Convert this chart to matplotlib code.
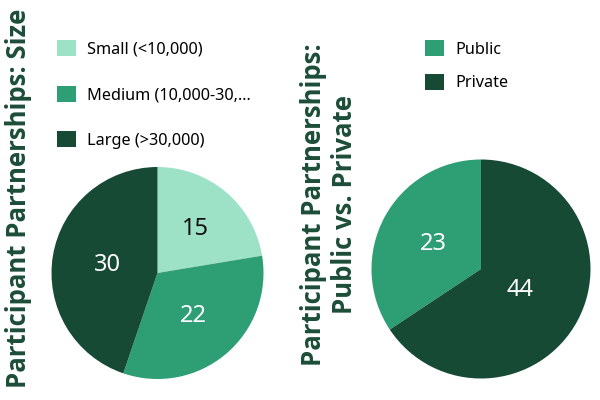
import matplotlib
matplotlib.use('Agg')
import matplotlib.pyplot as plt

plt.rcParams['font.family'] = ['Noto Sans', 'DejaVu Sans']

# data
size_labels = ['Small (<10,000)', 'Medium (10,000-30,...', 'Large (>30,000)']
size_counts = [15, 22, 30]
sector_labels = ['Public', 'Private']
sector_counts = [23, 44]

light = '#9de1c6'
medium = '#2e9e75'
dark = '#164a35'
title_color = '#1b4d38'

fig = plt.figure(figsize=(6, 4), dpi=100)
W, H = 600, 400


def px_axes(cx, cy, r):
    # square axes centred on pixel (cx, cy) measured from top-left
    return fig.add_axes([(cx - r) / W, (H - cy - r) / H, 2 * r / W, 2 * r / H])


def draw_pie(ax, counts, colors, counterclock, dists, text_colors):
    total = sum(counts)
    wedges, _, autotexts = ax.pie(
        counts, colors=colors, startangle=90, counterclock=counterclock,
        autopct=lambda p: f'{round(p * total / 100)}',
        textprops={'fontsize': 17})
    for t, d, c in zip(autotexts, dists, text_colors):
        x, y = t.get_position()
        r = (x ** 2 + y ** 2) ** 0.5
        t.set_position((x / r * d, y / r * d))
        t.set_color(c)
    ax.set_xlim(-1, 1)
    ax.set_ylim(-1, 1)
    ax.set_aspect('equal')
    return wedges


# left pie: size
ax1 = px_axes(157.5, 273, 106)
w1 = draw_pie(ax1, size_counts, [light, medium, dark], False,
              [0.55, 0.53, 0.48], ['#111111', 'white', 'white'])
fig.legend(w1, size_labels, loc='upper left', bbox_to_anchor=(57 / W, 1 - 40 / H),
           frameon=False, fontsize=11.7, handlelength=1.15, handleheight=1.15,
           handletextpad=0.7, labelspacing=1.72, borderpad=0, borderaxespad=0)

# right pie: public vs private
ax2 = px_axes(481, 269, 109.5)
w2 = draw_pie(ax2, sector_counts, [medium, dark], True,
              [0.49, 0.40], ['white', 'white'])
fig.legend(w2, sector_labels, loc='upper left', bbox_to_anchor=(425 / W, 1 - 40 / H),
           frameon=False, fontsize=11.7, handlelength=1.15, handleheight=1.15,
           handletextpad=0.7, labelspacing=1.0, borderpad=0, borderaxespad=0)

# vertical titles
title_font = {'family': ['Open Sans', 'DejaVu Sans'], 'fontsize': 18.5,
              'fontweight': 'bold', 'color': title_color}
fig.text(19 / W, 1 - 198 / H, 'Participant Partnerships: Size', rotation=90,
         ha='center', va='center', **title_font)
fig.text(329 / W, 1 - 205 / H, 'Participant Partnerships:\nPublic vs. Private',
         rotation=90, ha='center', va='center', multialignment='center',
         linespacing=1.2, **title_font)

fig.savefig('out.png', dpi=100)
